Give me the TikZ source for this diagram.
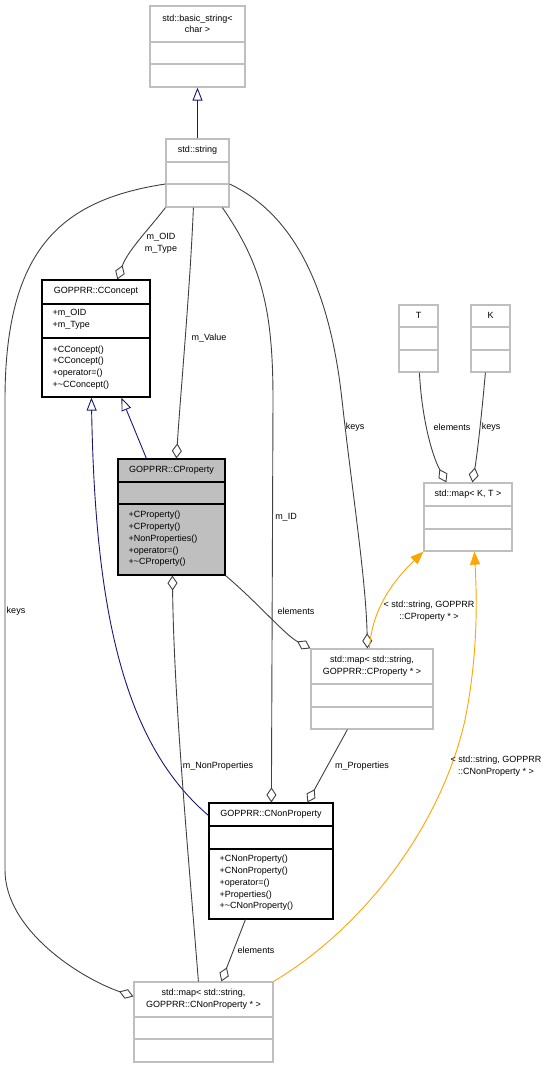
\documentclass[tikz,border=0pt]{standalone}
\usepackage{fontspec}
\setmainfont{Liberation Sans}
\usepackage{tikz}
\usetikzlibrary{arrows.meta,fit,positioning}

\definecolor{grey75}{HTML}{BFBFBF}
\definecolor{grey25}{HTML}{404040}
\definecolor{midnight}{HTML}{191970}
\definecolor{tmplorange}{HTML}{FFA500}

% class box: name, style, top left, bottom right, first divider, second divider, title
\newcommand{\umlclass}[7]{%
  \node[#2, fit={(#3) (#4)}] (#1) {};
  \draw[#2, fill=none] (#1.west |- 0,#5) -- (#1.east |- 0,#5)
                       (#1.west |- 0,#6) -- (#1.east |- 0,#6);
  \path (#1.north) -- (#1.north |- 0,#5) node[midway, classtitle] (#1-title) {#7};
}

\begin{document}
\begin{tikzpicture}[
        x=1pt, y=-1pt,
        every node/.style={font=\fontsize{9}{11.75}\selectfont, inner sep=0pt},
        plainbox/.style={draw=grey75, line width=1.2pt, inner sep=0pt},
        solidbox/.style={draw=black, line width=1.2pt, inner sep=0pt},
        focusbox/.style={draw=black, fill=grey75, line width=1.2pt, inner sep=0pt},
        classtitle/.style={align=center},
        members/.style={align=left, anchor=west},
        edgelabel/.style={align=center},
        usage/.style={draw=grey25, line width=0.9pt, -{Diamond[open, length=15pt, width=10pt]}},
        inherit/.style={draw=midnight, line width=0.9pt, -{Triangle[open, length=13pt, width=10pt]}},
        template/.style={draw=tmplorange, line width=0.9pt, -{Triangle[length=13pt, width=10pt, fill=tmplorange]}}
    ]
  \useasboundingbox (0,0) rectangle (548,1069);

  % Nodes
  \umlclass{basicstring}{plainbox}{150,6}{245,87}{42}{64}{std::basic\_string<\\char >}
  \umlclass{string}{plainbox}{166,139}{229,207}{162}{184}{std::string}

  \umlclass{cconcept}{solidbox}{42,280}{150,397}{304}{338}{GOPPRR::CConcept}
  \node[members] (cconcept-attr) at (52.5,319) {+m\_OID\\+m\_Type};
  \node[members] (cconcept-ops) at (52.5,367.5) {+CConcept()\\+CConcept()\\+operator=()\\+\textasciitilde CConcept()};

  \umlclass{cproperty}{focusbox}{118,459}{225,575}{482}{504}{GOPPRR::CProperty}
  \node[members] (cproperty-ops) at (128.5,539) {+CProperty()\\+CProperty()\\+NonProperties()\\+operator=()\\+\textasciitilde CProperty()};

  \umlclass{tparam}{plainbox}{399,305}{438,372}{327}{350}{T}
  \umlclass{kparam}{plainbox}{471,305}{510,372}{327}{350}{K}
  \umlclass{mapkt}{plainbox}{424,483}{512,551}{506}{529}{std::map< K, T >}

  \umlclass{mapprop}{plainbox}{311,649}{433,729}{684}{707}{std::map< std::string,\\GOPPRR::CProperty * >}

  \umlclass{cnonprop}{solidbox}{209,803}{333,919}{826}{849}{GOPPRR::CNonProperty}
  \node[members] (cnonprop-ops) at (219.5,883) {+CNonProperty()\\+CNonProperty()\\+operator=()\\+Properties()\\+\textasciitilde CNonProperty()};

  \umlclass{mapnonprop}{plainbox}{134,982}{273,1062}{1017}{1039}{std::map< std::string,\\GOPPRR::CNonProperty * >}

  % Inheritance
  \draw[inherit] (string) -- (basicstring);
  \draw[inherit] ([xshift=29pt]cproperty.north west) -- ([xshift=80pt]cconcept.south west);
  \draw[inherit] ([yshift=-13pt]cnonprop.north west) .. controls (120,740) and (95,600) .. ([xshift=50pt]cconcept.south west);

  % Members
  \draw[usage] (string.south west) .. controls (150,228) and (128,250) .. ([xshift=76pt]cconcept.north west);
  \draw[usage] ([xshift=28pt]string.south west) .. controls (190,290) and (180,400) .. ([xshift=59pt]cproperty.north west);
  \draw[usage] ([xshift=57pt]string.south west) .. controls (262,265) and (273,310) .. (273,400) -- ([xshift=63pt]cnonprop.north west);
  \draw[usage] ([yshift=-11pt]string.east) .. controls (295,215) and (330,290) .. (342,400) .. controls (352,490) and (366,580) .. ([xshift=57pt]mapprop.north west);
  \draw[usage] ([yshift=-11pt]string.west) .. controls (60,200) and (5,250) .. (5,400) -- (5,870) .. controls (5,930) and (80,978) .. ([yshift=-15pt]mapnonprop.north west);
  \draw[usage] (cproperty.south east) .. controls (258,603) and (285,635) .. (mapprop.north west);
  \draw[usage] ([xshift=65pt]mapnonprop.north west) .. controls (188,850) and (174,700) .. ([xshift=55pt]cproperty.south west);
  \draw[usage] ([xshift=37pt]mapprop.south west) -- ([xshift=99pt]cnonprop.north west);
  \draw[usage] ([xshift=37pt]cnonprop.south west) -- ([xshift=88pt]mapnonprop.north west);
  \draw[usage] ([xshift=21pt]tparam.south west) .. controls (422,420) and (432,455) .. ([xshift=23pt]mapkt.north west);
  \draw[usage] ([xshift=15pt]kparam.south west) .. controls (483,400) and (478,450) .. ([xshift=49pt]mapkt.north west);

  % Template instances
  \draw[template] ([xshift=59pt]mapprop.north west) .. controls (372,610) and (392,582) .. (mapkt.south west);
  \draw[template] (mapnonprop.north east) .. controls (360,930) and (440,830) .. (465,720) .. controls (478,655) and (477,600) .. ([xshift=51pt]mapkt.south west);

  % Labels
  \node[edgelabel] (lbl-oid) at (161,243) {m\_OID\\m\_Type};
  \node (lbl-value) at (209,338) {m\_Value};
  \node (lbl-id) at (286,517) {m\_ID};
  \node (lbl-keys) at (355,427) {keys};
  \node (lbl-keys2) at (16,611) {keys};
  \node (lbl-elements) at (296,611) {elements};
  \node (lbl-nonprops) at (218,766) {m\_NonProperties};
  \node (lbl-props) at (362,766) {m\_Properties};
  \node (lbl-elements2) at (256,950) {elements};
  \node (lbl-telements) at (452,427) {elements};
  \node (lbl-kkeys) at (491,427) {keys};
  \node[edgelabel] (lbl-proparg) at (429,611) {< std::string, GOPPRR\\::CProperty * >};
  \node[edgelabel] (lbl-nonproparg) at (496,766) {< std::string, GOPPRR\\::CNonProperty * >};
\end{tikzpicture}
\end{document}
